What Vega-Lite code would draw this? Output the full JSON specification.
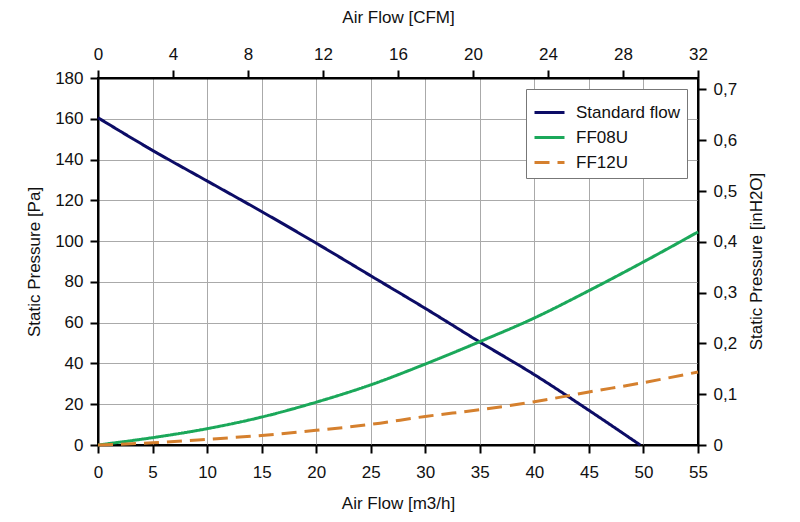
{
  "$schema": "https://vega.github.io/schema/vega-lite/v6.json",
  "width": 600,
  "height": 367,
  "padding": {"left": 25, "top": 8, "right": 5, "bottom": 5},
  "background": "white",
  "layer": [
    {
      "data": {
        "values": [
          {"series": "Standard flow", "flow": 0, "pressure": 160.5},
          {"series": "Standard flow", "flow": 5, "pressure": 144.5},
          {"series": "Standard flow", "flow": 10, "pressure": 129.5},
          {"series": "Standard flow", "flow": 15, "pressure": 114.5},
          {"series": "Standard flow", "flow": 20, "pressure": 99},
          {"series": "Standard flow", "flow": 25, "pressure": 83},
          {"series": "Standard flow", "flow": 30, "pressure": 67},
          {"series": "Standard flow", "flow": 35, "pressure": 50.5},
          {"series": "Standard flow", "flow": 40, "pressure": 34.5},
          {"series": "Standard flow", "flow": 45, "pressure": 17},
          {"series": "Standard flow", "flow": 49.7, "pressure": 0},
          {"series": "FF08U", "flow": 0, "pressure": 0},
          {"series": "FF08U", "flow": 5, "pressure": 3.6},
          {"series": "FF08U", "flow": 10, "pressure": 8},
          {"series": "FF08U", "flow": 15, "pressure": 13.7},
          {"series": "FF08U", "flow": 20, "pressure": 21},
          {"series": "FF08U", "flow": 25, "pressure": 29.5},
          {"series": "FF08U", "flow": 30, "pressure": 39.7},
          {"series": "FF08U", "flow": 35, "pressure": 50.7},
          {"series": "FF08U", "flow": 40, "pressure": 62.3},
          {"series": "FF08U", "flow": 45, "pressure": 75.7},
          {"series": "FF08U", "flow": 50, "pressure": 89.8},
          {"series": "FF08U", "flow": 55, "pressure": 104.5},
          {"series": "FF12U", "flow": 0, "pressure": 0},
          {"series": "FF12U", "flow": 5, "pressure": 1.1},
          {"series": "FF12U", "flow": 10, "pressure": 2.8},
          {"series": "FF12U", "flow": 15, "pressure": 4.7},
          {"series": "FF12U", "flow": 20, "pressure": 7.2},
          {"series": "FF12U", "flow": 25, "pressure": 10.1},
          {"series": "FF12U", "flow": 30, "pressure": 14},
          {"series": "FF12U", "flow": 35, "pressure": 17.3},
          {"series": "FF12U", "flow": 40, "pressure": 21.2},
          {"series": "FF12U", "flow": 45, "pressure": 26},
          {"series": "FF12U", "flow": 50, "pressure": 30.6},
          {"series": "FF12U", "flow": 55, "pressure": 35.8}
        ]
      },
      "mark": {"type": "line", "strokeWidth": 3, "interpolate": "monotone"},
      "encoding": {
        "x": {
          "field": "flow",
          "type": "quantitative",
          "title": "Air Flow [m3/h]",
          "scale": {"domain": [0, 55], "nice": false, "zero": false},
          "axis": {
            "orient": "bottom",
            "values": [0, 5, 10, 15, 20, 25, 30, 35, 40, 45, 50, 55],
            "grid": true,
            "labelPadding": 11,
            "titlePadding": 15
          }
        },
        "y": {
          "field": "pressure",
          "type": "quantitative",
          "title": "Static Pressure [Pa]",
          "scale": {"domain": [0, 180], "nice": false, "zero": false},
          "axis": {
            "orient": "left",
            "values": [0, 20, 40, 60, 80, 100, 120, 140, 160, 180],
            "grid": true,
            "labelPadding": 7,
            "titlePadding": 11
          }
        },
        "color": {
          "field": "series",
          "type": "nominal",
          "title": null,
          "scale": {
            "domain": ["Standard flow", "FF08U", "FF12U"],
            "range": ["#0c0c66", "#1ba85a", "#d5802e"]
          }
        },
        "strokeDash": {
          "field": "series",
          "type": "nominal",
          "title": null,
          "scale": {
            "domain": ["Standard flow", "FF08U", "FF12U"],
            "range": [[1, 0], [1, 0], [15, 8]]
          }
        }
      }
    },
    {
      "data": {
        "values": [
          {"cfm": 0, "inh2o": 0},
          {"cfm": 32, "inh2o": 0.7226}
        ]
      },
      "mark": {"type": "point", "opacity": 0},
      "encoding": {
        "x": {
          "field": "cfm",
          "type": "quantitative",
          "title": "Air Flow [CFM]",
          "scale": {"domain": [0, 32], "nice": false, "zero": false},
          "axis": {
            "orient": "top",
            "values": [0, 4, 8, 12, 16, 20, 24, 28, 32],
            "grid": false,
            "labelPadding": 7,
            "titlePadding": 19
          }
        },
        "y": {
          "field": "inh2o",
          "type": "quantitative",
          "title": "Static Pressure [inH2O]",
          "scale": {"domain": [0, 0.7226], "nice": false, "zero": false},
          "axis": {
            "orient": "right",
            "values": [0, 0.1, 0.2, 0.3, 0.4, 0.5, 0.6, 0.7],
            "grid": false,
            "labelExpr": "datum.value == 0 ? '0' : replace(format(datum.value, '.1f'), '.', ',')",
            "labelPadding": 7,
            "titleAngle": 270,
            "titleX": 58,
            "titleY": 183,
            "titleAlign": "center",
            "titleBaseline": "middle"
          }
        }
      }
    }
  ],
  "resolve": {"scale": {"x": "independent", "y": "independent"}},
  "config": {
    "font": "Liberation Sans",
    "view": {"stroke": "black", "strokeWidth": 2},
    "axis": {
      "labelFont": "Liberation Sans",
      "labelFontSize": 17,
      "labelColor": "#111111",
      "titleFont": "Liberation Sans",
      "titleFontSize": 17,
      "titleFontWeight": "normal",
      "titleColor": "#111111",
      "domainColor": "black",
      "domainWidth": 2,
      "tickColor": "black",
      "tickWidth": 2,
      "tickSize": 8,
      "gridColor": "#aaaaaa",
      "gridWidth": 1,
      "labelFlush": false,
      "labelOverlap": false
    },
    "legend": {
      "orient": "top-right",
      "offset": 11,
      "fillColor": "white",
      "strokeColor": "#777777",
      "padding": 7,
      "labelFont": "Liberation Sans",
      "labelFontSize": 17,
      "labelColor": "#111111",
      "labelOffset": 10,
      "symbolType": "stroke",
      "symbolSize": 900,
      "symbolStrokeWidth": 3,
      "rowPadding": 0,
      "cornerRadius": 0
    }
  }
}
